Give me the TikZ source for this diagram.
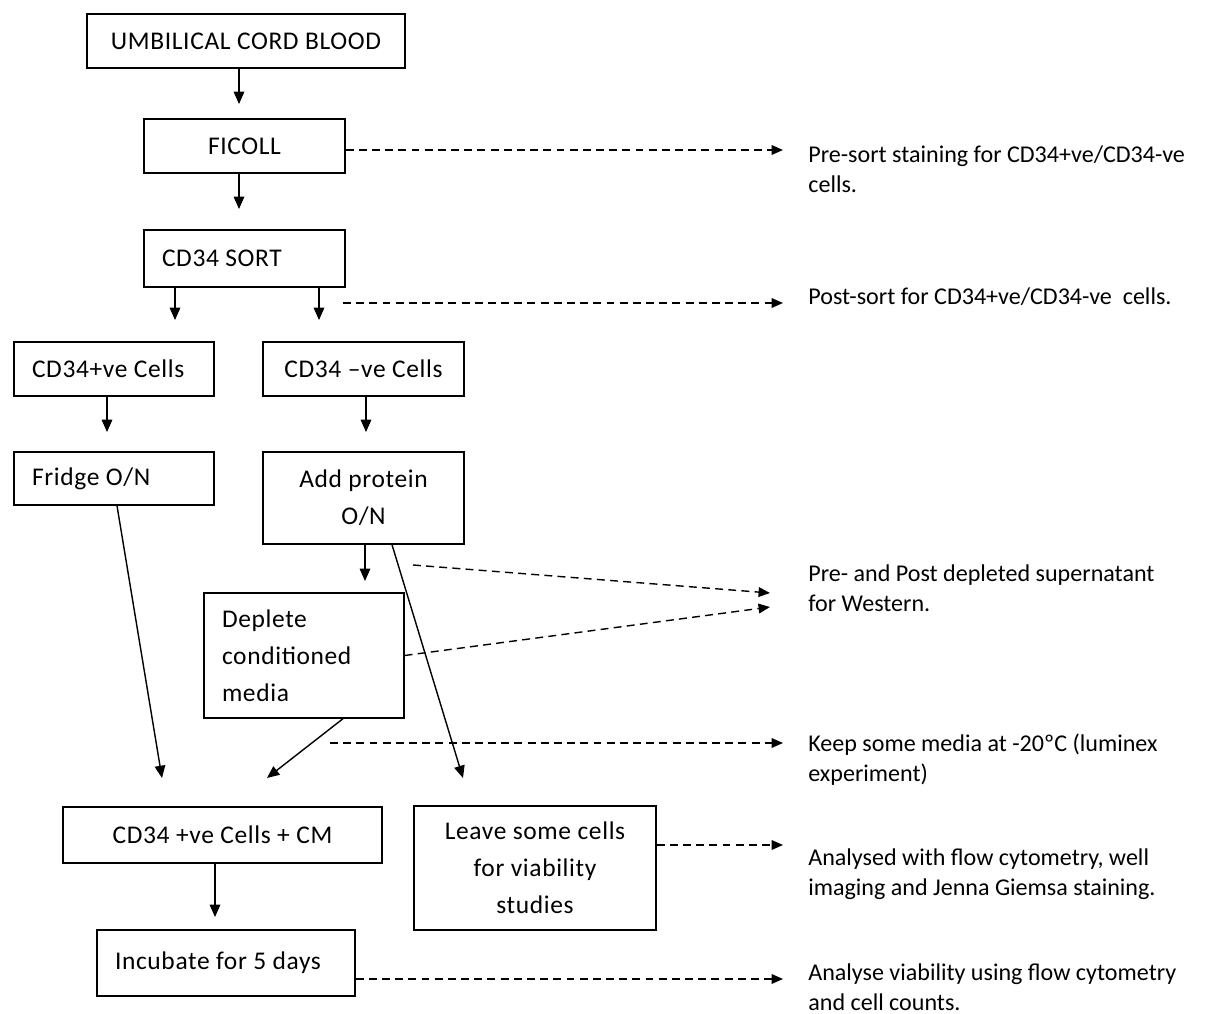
\documentclass[tikz,border=0pt]{standalone}
\usepackage{fontspec}
\setmainfont{Carlito}
\newfontfamily\boxfont[LetterSpace=2.5]{Carlito}
\usetikzlibrary{arrows.meta}

\tikzset{
  stage/.style={draw, line width=0.8pt, inner ysep=0pt, font=\boxfont\fontsize{14.5}{21}\selectfont},
  lstage/.style={stage, align=flush left, inner xsep=0.36cm},
  cstage/.style={stage, align=center, inner xsep=0pt},
  note/.style={anchor=base west, inner sep=0pt, align=left, font=\fontsize{13.7}{17}\selectfont},
  arr/.style={line width=0.8pt, -{Triangle[length=7pt,width=6pt]}},
  darr/.style={line width=0.8pt, dash pattern=on 4.5pt off 3pt, -{Triangle[length=6.5pt,width=5.5pt]}}
}

\begin{document}
\begin{tikzpicture}[x=0.02cm, y=-0.02cm]
\useasboundingbox (0,0) rectangle (1205,1014);

\node[cstage, minimum width=6.36cm, minimum height=1.08cm] (blood) at (246,41) {UMBILICAL CORD BLOOD};
\node[cstage, minimum width=4.02cm, minimum height=1.08cm] (ficoll) at (244.5,146) {FICOLL};
\node[lstage, text width=3.3cm, minimum height=1.14cm] (sort) at (244.5,258.5) {CD34 SORT};
\node[lstage, text width=3.28cm, minimum height=1.08cm] (pos) at (114,369) {CD34+ve Cells};
\node[cstage, minimum width=4.02cm, minimum height=1.08cm] (neg) at (363.5,369) {CD34 –ve Cells};
\node[lstage, text width=3.28cm, minimum height=1.06cm] (fridge) at (114,478.5) {Fridge O/N};
\node[cstage, minimum width=4.02cm, minimum height=1.84cm] (protein) at (363.5,498) {Add protein\\O/N};
\node[lstage, text width=3.28cm, minimum height=2.5cm] (deplete) at (304,655.5) {Deplete\\conditioned\\media};
\node[cstage, minimum width=6.38cm, minimum height=1.12cm] (cm) at (222.5,835) {CD34 +ve Cells + CM};
\node[cstage, minimum width=4.84cm, minimum height=2.48cm] (leave) at (535,868) {Leave some cells\\for viability\\studies};
\node[lstage, text width=4.44cm, minimum height=1.32cm] (incubate) at (226,963) {Incubate for 5 days};

\node[note] (presort) at (808,192) {Pre-sort staining for CD34+ve/CD34-ve\\cells.};
\node[note] (postsort) at (808,304) {Post-sort for CD34+ve/CD34-ve\ \ cells.};
\node[note] (western) at (808,611) {Pre- and Post depleted supernatant\\for Western.};
\node[note] (keep) at (808,781) {Keep some media at -20ºC (luminex\\experiment)};
\node[note] (flow) at (808,895) {Analysed with flow cytometry, well\\imaging and Jenna Giemsa staining.};
\node[note] (viab) at (808,1010) {Analyse viability using flow cytometry\\and cell counts.};

\coordinate (t1) at (239,104);
\coordinate (t2) at (239,209);
\coordinate (t3) at (175,320);
\coordinate (t4) at (319,320);
\coordinate (t5) at (107,432);
\coordinate (t6) at (366,432);
\coordinate (t7) at (365,581);
\coordinate (t8) at (162,778);
\coordinate (t9) at (463,778);
\coordinate (t10) at (267,778);
\coordinate (t11) at (215,917);

\draw[arr] (blood.south -| t1) -- (t1);
\draw[arr] (ficoll.south -| t2) -- (t2);
\draw[arr] (sort.south -| t3) -- (t3);
\draw[arr] (sort.south -| t4) -- (t4);
\draw[arr] (pos.south -| t5) -- (t5);
\draw[arr] (neg.south -| t6) -- (t6);
\draw[arr] (protein.south -| t7) -- (t7);
\draw[arr] ([xshift=0.06cm]fridge.south) -- (t8);
\draw[arr] ([xshift=0.57cm]protein.south) -- (t9);
\draw[arr] ([xshift=0.78cm]deplete.south) -- (t10);
\draw[arr] (cm.south -| t11) -- (t11);

\coordinate (d1) at (783,150);
\coordinate (d2s) at (343,303);
\coordinate (d2) at (783,303);
\coordinate (d3s) at (413,565);
\coordinate (d3) at (770,593);
\coordinate (d4) at (770,607);
\coordinate (d5s) at (330,743);
\coordinate (d5) at (783,743);
\coordinate (d6) at (783,845);
\coordinate (d7) at (783,979);

\draw[darr] (ficoll.east |- d1) -- (d1);
\draw[darr] (d2s) -- (d2);
\draw[darr] (d3s) -- (d3);
\draw[darr] (deplete.east) -- (d4);
\draw[darr] (d5s) -- (d5);
\draw[darr] (leave.east |- d6) -- (d6);
\draw[darr] (incubate.east |- d7) -- (d7);
\end{tikzpicture}
\end{document}
